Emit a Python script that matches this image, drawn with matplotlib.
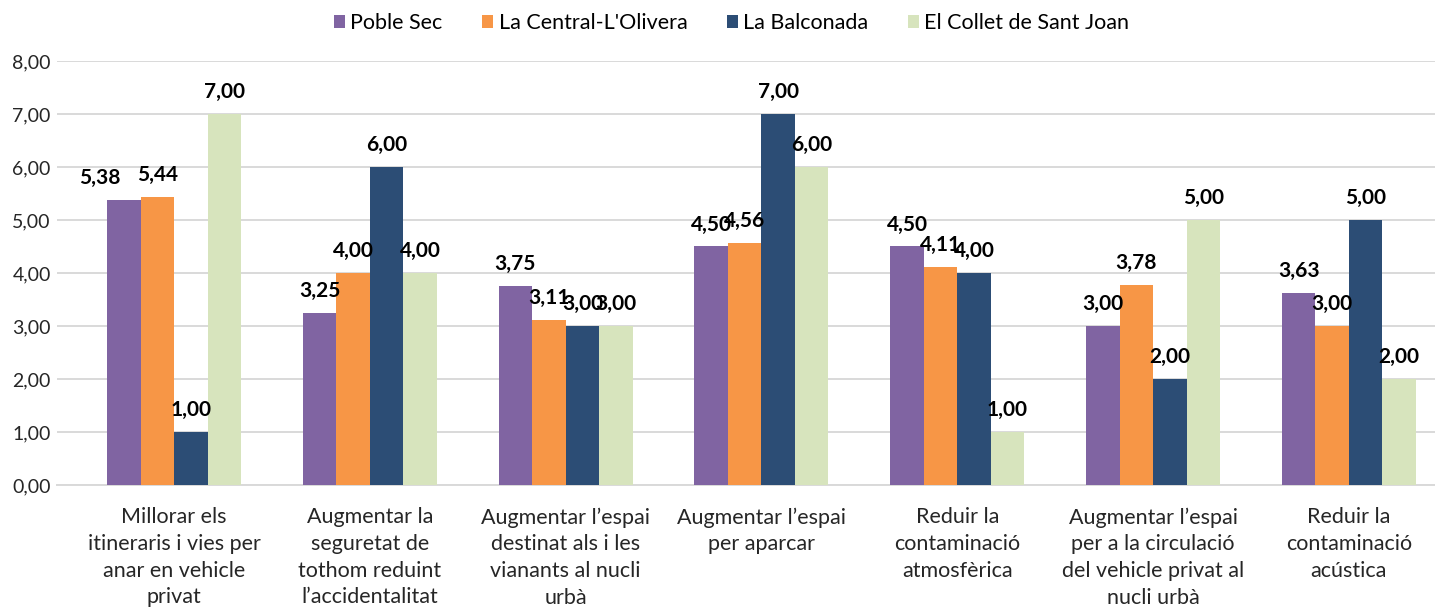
import numpy as np
import matplotlib
matplotlib.use('Agg')
import matplotlib.pyplot as plt

plt.rcParams['font.family'] = ['Lato', 'DejaVu Sans']

# Dades del gràfic
categories = [
    "Millorar els\nitineraris i vies per\nanar en vehicle\nprivat",
    "Augmentar la\nseguretat de\ntothom reduint\nl\u2019accidentalitat",
    "Augmentar l\u2019espai\ndestinat als i les\nvianants al nucli\nurbà",
    "Augmentar l\u2019espai\nper aparcar",
    "Reduir la\ncontaminació\natmosfèrica",
    "Augmentar l\u2019espai\nper a la circulació\ndel vehicle privat al\nnucli urbà",
    "Reduir la\ncontaminació\nacústica",
]
series_names = ["Poble Sec", "La Central-L'Olivera", "La Balconada", "El Collet de Sant Joan"]
poble_sec = [5.38, 3.25, 3.75, 4.50, 4.50, 3.00, 3.63]
la_central = [5.44, 4.00, 3.11, 4.56, 4.11, 3.78, 3.00]
la_balconada = [1.00, 6.00, 3.00, 7.00, 4.00, 2.00, 5.00]
el_collet = [7.00, 4.00, 3.00, 6.00, 1.00, 5.00, 2.00]
y_ticks = [0, 1, 2, 3, 4, 5, 6, 7, 8]

colors = ['#8064A2', '#F79646', '#2C4D75', '#D7E4BD']
values = [poble_sec, la_central, la_balconada, el_collet]

fig = plt.figure(figsize=(14.35, 6.13), dpi=100)
ax = fig.add_axes([0.0397, 0.2088, 0.9603, 0.6917])

x = np.arange(len(categories))
w = 0.171

for i, (name, vals, col) in enumerate(zip(series_names, values, colors)):
    pos = x + (i - 1.5) * w
    bars = ax.bar(pos, vals, w, color=col, label=name, zorder=3)
    for j, (b, v) in enumerate(zip(bars, vals)):
        # petit desplaçament manual per evitar solapaments (com a l'original)
        dx = -17 if (i == 0 and j == 0) else 0
        ax.annotate(f"{v:.2f}".replace('.', ','),
                    (b.get_x() + b.get_width() / 2, v),
                    xytext=(dx, 11.5), textcoords='offset points',
                    ha='center', va='baseline', fontsize=15,
                    fontweight='bold', color='black', zorder=5)

ax.set_xlim(-0.598, 6.44)
ax.set_ylim(0, 8)
ax.set_yticks(y_ticks)
ax.set_yticklabels([f"{t:.2f}".replace('.', ',') for t in y_ticks], fontsize=14)
ax.set_xticks(x)
ax.set_xticklabels(categories, fontsize=15.5, linespacing=1.42)

ax.grid(axis='y', color='#D9D9D9', linewidth=1.4, zorder=0)
for s in ['top', 'right', 'left']:
    ax.spines[s].set_visible(False)
ax.spines['bottom'].set_color('#D9D9D9')
ax.spines['bottom'].set_linewidth(1.4)
ax.tick_params(axis='both', length=0, colors='#262626')
ax.tick_params(axis='y', pad=4.5)
ax.tick_params(axis='x', pad=16)

fig.legend(loc='upper center', bbox_to_anchor=(0.51, 1.01), ncol=4, frameon=False,
           fontsize=15.5, handlelength=0.5, handleheight=0.5, handletextpad=0.25,
           columnspacing=1.85)

plt.savefig('out.png', dpi=100)
plt.close()
